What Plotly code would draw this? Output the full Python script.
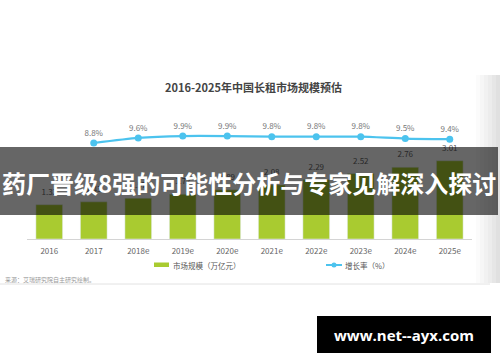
import plotly.graph_objects as go

# ---- data ----
years = ["2016", "2017", "2018e", "2019e", "2020e", "2021e", "2022e", "2023e", "2024e", "2025e"]
market_size = [1.32, 1.43, 1.57, 1.72, 1.89, 2.08, 2.29, 2.52, 2.76, 3.01]
growth_years = ["2017", "2018e", "2019e", "2020e", "2021e", "2022e", "2023e", "2024e", "2025e"]
growth_rate = [8.8, 9.6, 9.9, 9.9, 9.8, 9.8, 9.8, 9.5, 9.4]

title_text = "2016-2025年中国长租市场规模预估"
legend_bar = "市场规模（万亿元）"
legend_line = "增长率（%）"
source_text = "来源：艾瑞研究院自主研究绘制。"
banner_text = "药厂晋级8强的可能性分析与专家见解深入探讨"
watermark = "www.net--ayx.com"

W, H = 500, 362
BAR_COLOR = "#a9cb30"
LINE_COLOR = "#4cc3ee"
FONT = "Noto Sans CJK SC, Noto Sans, sans-serif"


def px(x):
    return x / W


def py(y):
    return 1 - y / H


fig = go.Figure()

fig.add_trace(go.Bar(
    x=years, y=market_size, marker_color=BAR_COLOR, width=0.6,
    showlegend=False, hoverinfo="skip",
))
# value labels (kept as trace text so the banner dims them)
fig.add_trace(go.Scatter(
    x=years, y=market_size, mode="markers+text",
    marker=dict(size=11, color="rgba(0,0,0,0)"),
    text=[f"{v:.2f}" for v in market_size], textposition="top center",
    textfont=dict(size=8, color="#666666", family=FONT),
    showlegend=False, hoverinfo="skip", cliponaxis=False,
))
fig.add_trace(go.Scatter(
    x=growth_years, y=growth_rate, yaxis="y2", mode="lines+markers+text",
    line=dict(color=LINE_COLOR, width=2.2, shape="spline", smoothing=0.6),
    marker=dict(size=7, color=LINE_COLOR),
    text=[f"{v:.1f}%" for v in growth_rate], textposition="top center",
    textfont=dict(size=8, color="#777777", family=FONT),
    showlegend=False, hoverinfo="skip", cliponaxis=False,
))

shapes = []
annotations = []

# right-edge shadow strips
shadow_cols = ["#fbfbfb", "#f6f6f6", "#f1f1f1", "#ececec", "#e6e6e6", "#e0e0e0"]
for i, c in enumerate(shadow_cols):
    x0 = 476 + i * 4
    shapes.append(dict(type="rect", xref="paper", yref="paper",
                       x0=px(x0), x1=px(x0 + 4), y0=py(283), y1=py(75),
                       fillcolor=c, line=dict(width=0), layer="below"))

# separator line
shapes.append(dict(type="line", xref="paper", yref="paper",
                   x0=px(0), x1=px(490), y0=py(284), y1=py(284),
                   line=dict(color="#e2e2e2", width=1)))

# legend glyphs
shapes.append(dict(type="rect", xref="paper", yref="paper",
                   x0=px(154), x1=px(169), y0=py(267), y1=py(262.5),
                   fillcolor=BAR_COLOR, line=dict(width=0)))
shapes.append(dict(type="line", xref="paper", yref="paper",
                   x0=px(326), x1=px(342), y0=py(265), y1=py(265),
                   line=dict(color=LINE_COLOR, width=2)))
shapes.append(dict(type="circle", xref="paper", yref="paper",
                   x0=px(331.5), x1=px(336.5), y0=py(267.5), y1=py(262.5),
                   fillcolor=LINE_COLOR, line=dict(width=0)))

# dark banner
shapes.append(dict(type="rect", xref="paper", yref="paper",
                   x0=px(0), x1=px(498), y0=py(215), y1=py(147),
                   fillcolor="rgba(0,0,0,0.6)", line=dict(width=0), layer="above"))

# watermark box
shapes.append(dict(type="rect", xref="paper", yref="paper",
                   x0=px(317), x1=px(491), y0=py(353), y1=py(316),
                   fillcolor="#000000", line=dict(width=0), layer="above"))


def ann(x, y, text, size, color, xanchor="center", family=FONT):
    return dict(xref="paper", yref="paper", x=px(x), y=py(y),
                xanchor=xanchor, yanchor="middle", text=text, showarrow=False,
                font=dict(size=size, color=color, family=family))


annotations.append(ann(253, 87, f"<b>{title_text}</b>", 11, "#444444"))
annotations.append(ann(171, 265, legend_bar, 7.5, "#555555", "left"))
annotations.append(ann(343, 265, legend_line, 7.5, "#555555", "left"))
annotations.append(ann(3, 279, source_text, 6, "#999999", "left"))
annotations.append(ann(249, 182, f"<b>{banner_text}</b>", 24, "#ffffff"))
annotations.append(ann(404, 334.5, f"<b>{watermark}</b>", 15, "#ffffff",
                       family="Open Sans, sans-serif"))

fig.update_layout(
    width=W, height=H, autosize=False,
    margin=dict(l=0, r=0, t=0, b=0),
    paper_bgcolor="white", plot_bgcolor="white",
    font=dict(family=FONT),
    shapes=shapes, annotations=annotations,
    xaxis=dict(
        type="category", domain=[27 / W, 472 / W], range=[-0.5, 9.5],
        showgrid=False, zeroline=False, showline=True, linecolor="#d4d4d4", linewidth=1,
        ticks="outside", ticklen=4, tickcolor="rgba(0,0,0,0)",
        tickfont=dict(size=8, color="#666666", family=FONT), fixedrange=True,
    ),
    yaxis=dict(
        domain=[(H - 239) / H, 1], range=[0, 239 / 26],
        visible=False, showgrid=False, zeroline=False, fixedrange=True,
    ),
    yaxis2=dict(
        overlaying="y", range=[-6.29, 31.29],
        visible=False, showgrid=False, zeroline=False, fixedrange=True,
    ),
)

fig.write_html(
    "out.html",
    config={"displayModeBar": False},
    post_script=(
        "document.body.style.margin='0';"
        "document.body.style.overflow='hidden';"
        "document.documentElement.style.overflow='hidden';"
    ),
)
